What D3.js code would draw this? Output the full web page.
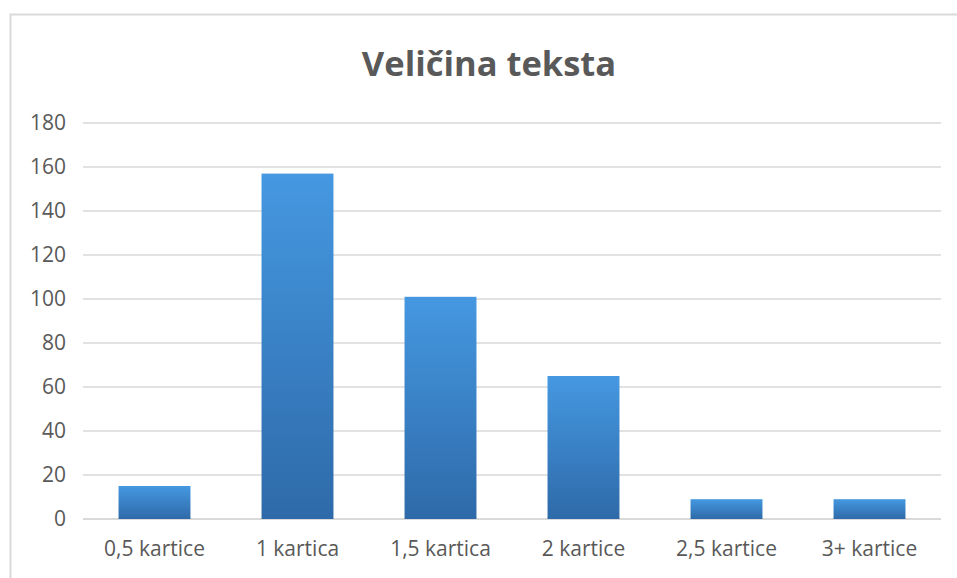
<!DOCTYPE html>
<html>
<head>
<meta charset="utf-8">
<script src="https://cdn.jsdelivr.net/npm/d3@7"></script>
<style>
  body { margin: 0; background: #fff; }
  text { font-family: "Open Sans", sans-serif; fill: #595959; }
</style>
</head>
<body>
<div class="container"></div>
<script>
let categories = ["0,5 kartice", "1 kartica", "1,5 kartica", "2 kartice", "2,5 kartice", "3+ kartice"];
let values = [15, 157, 101, 65, 9, 9];
let yTicks = [0, 20, 40, 60, 80, 100, 120, 140, 160, 180];
let title = "Veličina teksta";

let svg = d3.select(".container").append("svg")
    .attr("width", 957)
    .attr("height", 578);

let margin = { top: 123, right: 16, bottom: 59, left: 83 };
let width = 957 - margin.left - margin.right,
    height = 578 - margin.top - margin.bottom;

// chart frame
svg.append("rect")
    .attr("x", 10.5)
    .attr("y", 14.5)
    .attr("width", 1000)
    .attr("height", 1000)
    .attr("fill", "none")
    .attr("stroke", "#d9d9d9")
    .attr("stroke-width", 2);

let grad = svg.append("defs").append("linearGradient")
    .attr("id", "barGrad")
    .attr("x1", 0).attr("y1", 0)
    .attr("x2", 0).attr("y2", 1);
grad.append("stop").attr("offset", "0%").attr("stop-color", "#4598e1");
grad.append("stop").attr("offset", "100%").attr("stop-color", "#2e6aa9");

let x = d3.scaleBand()
    .domain(categories)
    .range([0, width])
    .paddingInner(0.497)
    .paddingOuter(0.2485);

let y = d3.scaleLinear()
    .domain([0, 180])
    .range([height, 0]);

let g = svg.append("g")
    .attr("transform", "translate(" + margin.left + "," + margin.top + ")");

// gridlines
g.append("g")
    .selectAll("line")
    .data(yTicks)
    .enter()
    .append("line")
    .attr("x1", 0)
    .attr("x2", width)
    .attr("y1", d => y(d))
    .attr("y2", d => y(d))
    .attr("stroke", "#d9d9d9")
    .attr("stroke-width", d => d === 0 ? 2 : 1.5);

// y axis labels
let yAxis = d3.axisLeft(y).tickValues(yTicks).tickSize(0).tickPadding(17);
g.append("g")
    .call(yAxis)
    .call(s => s.select(".domain").remove())
    .selectAll("text")
    .attr("font-size", 21)
    .style("font-family", "'Open Sans', sans-serif")
    .attr("fill", "#595959");

// bars
g.selectAll(".bar")
    .data(values)
    .enter()
    .append("rect")
    .attr("class", "bar")
    .attr("x", (d, i) => x(categories[i]))
    .attr("y", d => y(d))
    .attr("width", x.bandwidth())
    .attr("height", d => height - y(d))
    .attr("fill", "url(#barGrad)");

// x axis labels
let xAxis = d3.axisBottom(x).tickSize(0).tickPadding(22);
g.append("g")
    .attr("transform", "translate(0," + height + ")")
    .call(xAxis)
    .call(s => s.select(".domain").remove())
    .selectAll("text")
    .attr("font-size", 21)
    .style("font-family", "'Open Sans', sans-serif")
    .attr("fill", "#595959");

// title
svg.append("text")
    .attr("x", 489)
    .attr("y", 76)
    .attr("text-anchor", "middle")
    .attr("font-size", 34.5)
    .attr("font-weight", "bold")
    .text(title);
</script>
</body>
</html>
